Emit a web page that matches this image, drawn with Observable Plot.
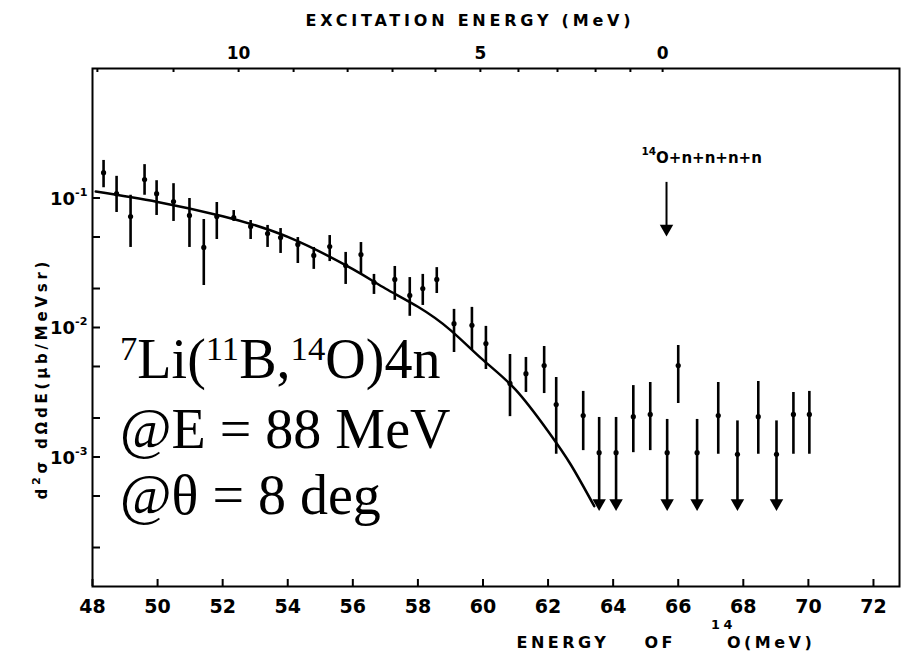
<!DOCTYPE html>
<html><head><meta charset="utf-8">
<script src="https://cdn.jsdelivr.net/npm/d3@7"></script>
<script src="https://cdn.jsdelivr.net/npm/@observablehq/plot@0.6"></script>
<style>
html,body{margin:0;padding:0;background:#fff;}
#chart svg{display:block;}
</style></head><body><div id="chart"></div>
<script>
// Measured points: energy of 14O (MeV), cross section (µb/MeV sr), error bar limits
const energy = [48.34, 48.74, 49.17, 49.60, 49.97, 50.49, 50.98, 51.42, 51.82, 52.34, 52.86, 53.38, 53.78, 54.31, 54.80, 55.29, 55.78, 56.25, 56.65, 57.29, 57.75, 58.15, 58.58, 59.11, 59.66, 60.09, 60.83, 61.32, 61.88, 62.25, 63.08, 63.57, 64.09, 64.62, 65.14, 65.66, 66.00, 66.58, 67.23, 67.82, 68.46, 69.02, 69.54, 70.03];
const value = [0.157, 0.108, 0.072, 0.139, 0.108, 0.094, 0.0733, 0.0415, 0.072, 0.0707, 0.0603, 0.0532, 0.0495, 0.0438, 0.036, 0.0422, 0.0301, 0.0366, 0.0223, 0.0235, 0.0177, 0.02, 0.0235, 0.0107, 0.0104, 0.00752, 0.0037, 0.0044, 0.00509, 0.00254, 0.00209, 0.00108, 0.00108, 0.00205, 0.00213, 0.00108, 0.00509, 0.00108, 0.00209, 0.00105, 0.00205, 0.00105, 0.00213, 0.00213];
const errHigh = [0.195, 0.147, 0.105, 0.181, 0.136, 0.129, 0.0991, 0.0682, 0.0923, 0.080, 0.067, 0.0614, 0.0581, 0.0495, 0.0415, 0.0513, 0.038, 0.0453, 0.0257, 0.0296, 0.0243, 0.0257, 0.029, 0.0138, 0.0143, 0.0102, 0.00619, 0.00587, 0.00713, 0.00411, 0.00321, 0.00202, 0.00202, 0.00356, 0.00376, 0.00195, 0.00726, 0.00195, 0.00376, 0.0019, 0.00383, 0.0019, 0.00315, 0.00321];
const errLow = [0.12, 0.0773, 0.0415, 0.105, 0.0733, 0.0659, 0.0415, 0.0211, 0.0478, 0.0659, 0.0478, 0.0415, 0.0373, 0.0312, 0.0281, 0.0323, 0.0215, 0.0261, 0.018, 0.0162, 0.0122, 0.0148, 0.0183, 0.00641, 0.00664, 0.00474, 0.00205, 0.00315, 0.00309, 0.00105, 0.00112, 0.00044, 0.00044, 0.00108, 0.00112, 0.00044, 0.00259, 0.00044, 0.00105, 0.00044, 0.00105, 0.00044, 0.00105, 0.00105];
const upperLimit = [0,0,0,0,0,0,0,0,0,0,0,0,0,0,0,0,0,0,0,0,0,0,0,0,0,0,0,0,0,0,0,1,1,0,0,1,0,1,0,1,0,1,0,0];

// Calculated curve
const curveE = [48.1, 50.0, 52.0, 54.0, 56.0, 57.0, 58.0, 59.0, 60.0, 61.0, 62.0, 62.7, 63.42];
const curveV = [0.1122, 0.0933, 0.0724, 0.0501, 0.0282, 0.0200, 0.01445, 0.00955, 0.00562, 0.00331, 0.00158, 0.000871, 0.000417];

// Axes
const bottomTicks = [48, 50, 52, 54, 56, 58, 60, 62, 64, 66, 68, 70, 72];
const excitationTicks = [0, 1, 2, 3, 4, 5, 6, 7, 8, 9, 10, 11, 12];
const excitationPos = [65.52, 64.53, 63.46, 62.29, 61.09, 59.92, 58.54, 57.22, 55.84, 54.18, 52.49, 50.49, 48.15];
const excitationLabeled = [0, 5, 10];
const yTicks = [0.1, 0.05, 0.02, 0.01, 0.005, 0.002, 0.001, 0.0005, 0.0002];
const yLabeled = [0.1, 0.01, 0.001];
const yLabelText = ["10^{-1}", "10^{-2}", "10^{-3}"];

// Annotations
const thresholdE = 65.64;
const thresholdTop = 0.132;
const thresholdTip = 0.058;
const thresholdLabel = "^{14}O+n+n+n+n";
const thresholdLabelE = 64.87;
const thresholdLabelV = 0.185;
const reactionLines = ["^{7}Li(^{11}B,^{14}O)4n", "@E = 88 MeV", "@θ = 8 deg"];
const xTitle = "ENERGY OF ^{14}O(MeV)";
const topTitle = "EXCITATION ENERGY (MeV)";
const yTitle = "d^{2}σ dΩdE(µb/MeVsr)";

const pts = energy.map((e, i) => ({e, v: value[i], lo: errLow[i], hi: errHigh[i], ul: upperLimit[i] === 1}));
const curve = curveE.map((e, i) => ({e, v: curveV[i]}));

const W = 901, H = 660, mL = 92, mR = 2, mT = 68, mB = 74;
const fw = W - mL - mR, fh = H - mT - mB;
const sans = "'DejaVu Sans', 'Liberation Sans', Arial, sans-serif";

const chart = Plot.plot({
  width: W, height: H,
  marginLeft: mL, marginRight: mR, marginTop: mT, marginBottom: mB,
  x: {domain: [48, 72.8], axis: null},
  y: {type: "log", domain: [1e-4, 1], axis: null},
  style: {fontFamily: sans, background: "white", color: "black", overflow: "visible"},
  marks: [
    Plot.frame({stroke: "black", strokeWidth: 2}),
    // ticks
    Plot.ruleX(bottomTicks, {x: d => d, insetTop: fh - 7, stroke: "black", strokeWidth: 2}),
    Plot.ruleX(excitationPos, {x: d => d, insetBottom: fh - 4, stroke: "black", strokeWidth: 2}),
    Plot.ruleY(yTicks, {y: d => d, insetRight: fw - 8, stroke: "black", strokeWidth: 2}),
    // tick labels
    Plot.text(bottomTicks, {x: d => d, text: d => String(d), frameAnchor: "bottom", lineAnchor: "top", dy: 13, fontSize: 19, fontWeight: "bold"}),
    Plot.text(excitationLabeled, {x: d => excitationPos[excitationTicks.indexOf(d)], text: d => String(d), frameAnchor: "top", lineAnchor: "bottom", dy: -10, fontSize: 17, fontWeight: "bold"}),
    Plot.text(yLabeled, {y: d => d, text: (d, i) => yLabelText[i], frameAnchor: "left", textAnchor: "end", dx: -5, dy: 1, fontSize: 18, fontWeight: "bold"}),
    // titles
    Plot.text([topTitle], {frameAnchor: "top-left", dx: 305 - mL, dy: -43, lineAnchor: "bottom", textAnchor: "start", fontSize: 16, fontWeight: "bold"}),
    Plot.text([xTitle], {frameAnchor: "bottom-left", dx: 516 - mL, dy: 61, lineAnchor: "bottom", textAnchor: "start", fontSize: 16, fontWeight: "bold"}),
    Plot.text([yTitle], {frameAnchor: "left", dx: -50, dy: 53, rotate: -90, textAnchor: "middle", fontSize: 15, fontWeight: "bold"}),
    // curve
    Plot.line(curve, {x: "e", y: "v", curve: "natural", stroke: "black", strokeWidth: 2.5}),
    // data
    Plot.ruleX(pts, {x: "e", y1: "lo", y2: "hi", stroke: "black", strokeWidth: 2.6}),
    Plot.dot(pts, {x: "e", y: "v", r: 2.6, fill: "black", stroke: "none"}),
    Plot.dot(pts.filter(d => d.ul), {x: "e", y: "lo", symbol: "triangle", rotate: 180, r: 5, fill: "black", stroke: "none"}),
    // threshold arrow
    Plot.ruleX([thresholdE], {x: d => d, y1: thresholdTop, y2: thresholdTip, stroke: "black", strokeWidth: 2}),
    Plot.dot([thresholdE], {x: d => d, y: thresholdTip, symbol: "triangle", rotate: 180, r: 5, fill: "black", stroke: "none"}),
    Plot.text([thresholdLabel], {x: thresholdLabelE, y: thresholdLabelV, textAnchor: "start", lineAnchor: "bottom", fontSize: 15, fontWeight: "bold"}),
    // reaction text (placed at measured baselines below)
    Plot.text(reactionLines, {frameAnchor: "top-left", lineAnchor: "bottom", textAnchor: "start", fontSize: 56, fontFamily: "'Liberation Serif', 'Times New Roman', serif"})
  ]
});

document.getElementById("chart").appendChild(chart);

// position reaction lines at their baselines
const baselines = [378, 448, 514];
d3.select(chart).selectAll("text").each(function() {
  const idx = reactionLines.indexOf(this.textContent);
  if (idx >= 0) {
    const g = this.parentNode;
    const gt = g.getAttribute("transform");
    let gx = 0, gy = 0;
    if (gt) { const m = gt.match(/translate\(([-\d.]+)[ ,]+([-\d.]+)\)/); if (m) { gx = +m[1]; gy = +m[2]; } }
    this.removeAttribute("x"); this.removeAttribute("y");
    this.setAttribute("transform", `translate(${120 - gx},${baselines[idx] - gy})`);
  }
});

// rich text: superscripts, spacing
const richOpts = {};
richOpts[thresholdLabel] = {scale: 0.7, shift: 0.55, after: 0};
richOpts[xTitle] = {scale: 0.8, shift: 1.15, after: -9};
richOpts[yTitle] = {scale: 0.75, shift: 0.5, after: 0};
yLabelText.forEach(s => richOpts[s] = {scale: 0.62, shift: 0.5, after: 0});
richOpts[reactionLines[0]] = {scale: 0.62, shift: 0.32, after: 0};
const lengths = {};
lengths[topTitle] = 325;
lengths[yTitle] = 238;

d3.select(chart).selectAll("text").each(function() {
  const t = this.textContent;
  if (lengths[t]) { this.setAttribute("textLength", lengths[t]); this.setAttribute("lengthAdjust", "spacing"); }
  if (t === xTitle) { this.setAttribute("letter-spacing", "3.5"); this.setAttribute("word-spacing", "26"); }
  if (!t.includes("^{")) return;
  const o = richOpts[t] || {scale: 0.65, shift: 0.45, after: 0};
  const fs = parseFloat(getComputedStyle(this).fontSize);
  const shift = fs * o.shift;
  while (this.firstChild) this.removeChild(this.firstChild);
  const parts = t.split(/(\^\{[^}]*\})/).filter(p => p.length);
  let raised = false;
  for (const p of parts) {
    const ts = document.createElementNS("http://www.w3.org/2000/svg", "tspan");
    if (p.startsWith("^{")) {
      ts.textContent = p.slice(2, -1);
      ts.setAttribute("font-size", fs * o.scale);
      ts.setAttribute("dy", raised ? 0 : -shift);
      raised = true;
    } else {
      ts.textContent = p;
      if (raised) { ts.setAttribute("dy", shift); if (o.after) ts.setAttribute("dx", o.after); }
      raised = false;
    }
    this.appendChild(ts);
  }
});
</script>
</body></html>
